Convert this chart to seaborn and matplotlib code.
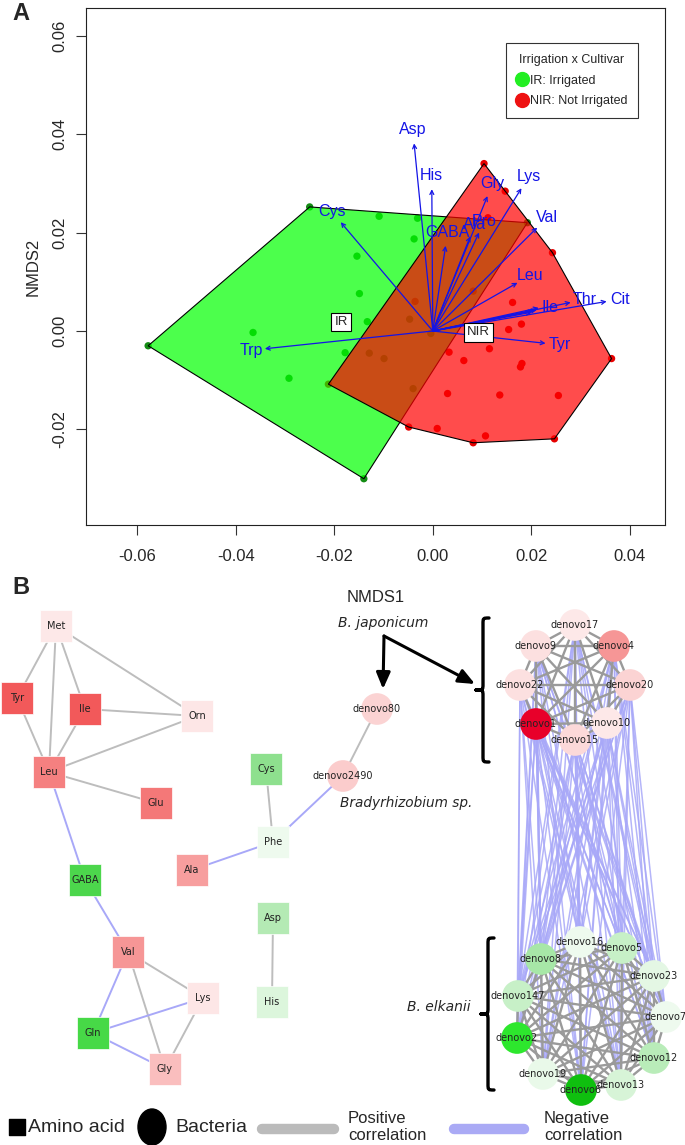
"""
NMDS ordination (A) + correlation network (B)
output: out.png
"""
import numpy as np
import pandas as pd
import matplotlib
matplotlib.use("Agg")
import matplotlib.pyplot as plt
import seaborn as sns
from itertools import combinations, product
from matplotlib.colors import LinearSegmentedColormap, to_rgba
from matplotlib.patches import Polygon, PathPatch, Ellipse
from matplotlib.path import Path
from matplotlib.lines import Line2D

sns.set_theme(style="ticks")
plt.rcParams['font.family'] = ['Liberation Sans', 'DejaVu Sans']

# =============================================
# data: panel A (NMDS scores + envfit vectors)
# =============================================
ir_x = [-0.0578, -0.0250, 0.0192, -0.0140, -0.0109, -0.0031, -0.0038, -0.0154, -0.0149,
        -0.0133, -0.0365, -0.0178, -0.0292, -0.0129, -0.0099, -0.0047, -0.0004, -0.0040]
ir_y = [-0.0030, 0.0252, 0.0220, -0.0300, 0.0233, 0.0229, 0.0187, 0.0152, 0.0076,
        0.0019, -0.0003, -0.0044, -0.0096, -0.0045, -0.0056, 0.0024, -0.0005, -0.0117]
nir_x = [0.0104, 0.0147, 0.0243, 0.0363, 0.0247, 0.0082, 0.0107, 0.0009, -0.0049, -0.0212,
         0.0162, 0.0180, 0.0154, 0.0033, 0.0115, 0.0063, 0.0181, 0.0178, 0.0030, 0.0136,
         0.0255, 0.0082, 0.0112, -0.0036]
nir_y = [0.0340, 0.0284, 0.0159, -0.0056, -0.0219, -0.0227, -0.0213, -0.0198, -0.0195, -0.0108,
         0.0058, 0.0014, 0.0003, -0.0043, -0.0036, -0.0060, -0.0066, -0.0073, -0.0127, -0.0130,
         -0.0131, 0.0081, 0.0230, 0.0060]

vec_names = ["Asp", "His", "Gly", "Lys", "Val", "Ala", "Pro", "GABA", "Leu", "Thr", "Cit",
             "Ile", "Tyr", "Trp", "Cys"]
vec_x = [-0.0038, -0.0002, 0.0111, 0.0180, 0.0212, 0.0076, 0.0094, 0.0026, 0.0172, 0.0280,
         0.0353, 0.0211, 0.0229, -0.0341, -0.0187]
vec_y = [0.0381, 0.0288, 0.0274, 0.0290, 0.0210, 0.0192, 0.0200, 0.0173, 0.0098, 0.0058,
         0.0060, 0.0043, -0.0025, -0.0036, 0.0221]
# arrows hidden under the "Ile" label
extra_vec_x = [0.0200, 0.0205, 0.0215]
extra_vec_y = [0.0038, 0.0041, 0.0047]

group_labels = ["IR", "NIR"]
group_label_x = [-0.0186, 0.0093]
group_label_y = [0.0018, -0.0003]

# =============================================
# data: panel B (network layout, node values, edges)
# =============================================
aa_names = ["Met", "Tyr", "Ile", "Orn", "Leu", "Glu", "Cys", "Phe", "Ala", "GABA",
            "Asp", "Val", "Lys", "His", "Gln", "Gly"]
aa_x = [56, 17, 85, 197, 49, 156, 266, 273, 192, 85, 273, 128, 203, 272, 93, 165]
aa_y = [626, 698, 709, 716, 772, 803, 769, 842, 870, 880, 918, 952, 998, 1002, 1033, 1069]
aa_value = [0.12, 0.70, 0.70, 0.13, 0.59, 0.61, -0.50, -0.075, 0.50, -0.75,
            -0.33, 0.53, 0.13, -0.15, -0.76, 0.34]

japonicum = ["denovo17", "denovo4", "denovo20", "denovo10", "denovo15", "denovo1",
             "denovo22", "denovo9"]
jap_x = [575, 614, 630, 607, 575, 536, 520, 536]
jap_y = [625, 646, 685, 723, 740, 724, 685, 646]
jap_value = [0.12, 0.53, 0.23, 0.12, 0.20, 1.0, 0.16, 0.16]

elkanii = ["denovo16", "denovo5", "denovo23", "denovo7", "denovo12", "denovo13",
           "denovo6", "denovo19", "denovo2", "denovo147", "denovo8"]
elk_x = [580, 622, 654, 666, 654, 621, 581, 543, 517, 518, 541]
elk_y = [942, 948, 976, 1017, 1058, 1085, 1090, 1074, 1038, 996, 959]
elk_value = [-0.075, -0.25, -0.125, -0.075, -0.31, -0.175, -1.0, -0.095, -0.84, -0.25, -0.385]

other_bac = ["denovo80", "denovo2490"]
other_x = [377, 343]
other_y = [709, 776]
other_value = [0.23, 0.27]

# (node, node, sign of correlation)
aa_edges = [("Met", "Tyr", 1), ("Met", "Leu", 1), ("Met", "Ile", 1), ("Met", "Orn", 1),
            ("Tyr", "Leu", 1), ("Ile", "Orn", 1), ("Ile", "Leu", 1), ("Orn", "Leu", 1),
            ("Leu", "Glu", 1), ("Cys", "Phe", 1), ("Asp", "His", 1), ("Val", "Lys", 1),
            ("Val", "Gly", 1), ("Lys", "Gly", 1), ("denovo2490", "denovo80", 1),
            ("Leu", "GABA", -1), ("GABA", "Val", -1), ("Val", "Gln", -1), ("Gln", "Lys", -1),
            ("Gln", "Gly", -1), ("Ala", "Phe", -1), ("Phe", "denovo2490", -1)]

W, H = 685, 1145


def convex_hull(pts):
    pts = sorted(set(map(tuple, pts)))

    def cross(o, a, b):
        return (a[0] - o[0]) * (b[1] - o[1]) - (a[1] - o[1]) * (b[0] - o[0])

    lower, upper = [], []
    for p in pts:
        while len(lower) >= 2 and cross(lower[-2], lower[-1], p) <= 0:
            lower.pop()
        lower.append(p)
    for p in reversed(pts):
        while len(upper) >= 2 and cross(upper[-2], upper[-1], p) <= 0:
            upper.pop()
        upper.append(p)
    return np.array(lower[:-1] + upper[:-1])


def draw_brace(ax, x, y0, y1, depth=7, curl=6, lw=2.4):
    """left curly brace, y grows downward"""
    ym = (y0 + y1) / 2
    verts = [(x + curl, y0), (x, y0), (x, y0), (x, y0 + curl),
             (x, ym - curl),
             (x, ym), (x, ym), (x - depth, ym),
             (x, ym), (x, ym), (x, ym + curl),
             (x, y1 - curl),
             (x, y1), (x, y1), (x + curl, y1)]
    codes = [Path.MOVETO] + [Path.CURVE4] * 3 + [Path.LINETO] + [Path.CURVE4] * 6 + \
            [Path.LINETO] + [Path.CURVE4] * 3
    ax.add_patch(PathPatch(Path(verts, codes), fc="none", ec="black", lw=lw,
                           capstyle="round", joinstyle="round"))


fig = plt.figure(figsize=(W / 100, H / 100), dpi=100)

# =============================================
# panel A
# =============================================
ax = fig.add_axes([86 / W, 1 - 525 / H, (665 - 86) / W, (525 - 8) / H])
df = pd.DataFrame({"NMDS1": ir_x + nir_x,
                   "NMDS2": ir_y + nir_y,
                   "group": ["IR"] * len(ir_x) + ["NIR"] * len(nir_x)})
sns.scatterplot(data=df, x="NMDS1", y="NMDS2", hue="group",
                palette={"IR": "#148C14", "NIR": "#E60000"},
                s=28, linewidth=0, legend=False, ax=ax, zorder=1)

for grp, fc, z in [("IR", "#00FF00", 2), ("NIR", "#FF0000", 3)]:
    pts = df.loc[df["group"] == grp, ["NMDS1", "NMDS2"]].to_numpy()
    ax.add_patch(Polygon(convex_hull(pts), closed=True, facecolor=to_rgba(fc, 0.7),
                         edgecolor="black", lw=0.8, zorder=z))

blue = "#1414E6"
for vx, vy in zip(vec_x + extra_vec_x, vec_y + extra_vec_y):
    ax.annotate("", xy=(vx, vy), xytext=(0, 0),
                arrowprops=dict(arrowstyle="->", color=blue, lw=0.9, shrinkA=0, shrinkB=0,
                                mutation_scale=7), zorder=4)
for name, vx, vy in zip(vec_names, vec_x, vec_y):
    ang = np.arctan2(vy, vx)
    off = 9 if name in ("Ala", "Pro") else 10
    ax.annotate(name, xy=(vx, vy), xytext=(off * np.cos(ang), off * np.sin(ang)),
                textcoords="offset points", ha="center", va="center",
                color=blue, fontsize=11.5, zorder=5)

for lab, gx, gy in zip(group_labels, group_label_x, group_label_y):
    ax.text(gx, gy, lab, ha="center", va="center", fontsize=9.5, zorder=6,
            bbox=dict(boxstyle="square,pad=0.25", fc="white", ec="black", lw=0.8))

ax.set_xlim(-0.07042, 0.04715)
ax.set_ylim(-0.0394, 0.0656)
xt = [-0.06, -0.04, -0.02, 0.00, 0.02, 0.04]
yt = [-0.02, 0.00, 0.02, 0.04, 0.06]
ax.set_xticks(xt)
ax.set_xticklabels([f"{t:.2f}" for t in xt])
ax.set_yticks(yt)
ax.set_yticklabels([f"{t:.2f}" for t in yt], rotation=90, va="center")
ax.tick_params(direction="out", length=7.2, width=0.8, labelsize=12, color="#333333")
ax.tick_params(axis="x", pad=10)
ax.tick_params(axis="y", pad=6)
for sp in ax.spines.values():
    sp.set_visible(True)
    sp.set_color("#222222")
    sp.set_linewidth(0.8)
ax.set_xlabel("NMDS1", fontsize=12, labelpad=19)
ax.set_ylabel("NMDS2", fontsize=12, labelpad=9)

handles = [Line2D([], [], marker="o", ls="", color="#22EE22", markersize=10, label="IR: Irrigated"),
           Line2D([], [], marker="o", ls="", color="#EE1111", markersize=10, label="NIR: Not Irrigated")]
leg = ax.legend(handles=handles, title="Irrigation x Cultivar", loc="upper right",
                bbox_to_anchor=(0.953, 0.932), frameon=True, fancybox=False,
                edgecolor="black", fontsize=9, title_fontsize=9,
                handletextpad=0.15, borderpad=0.85, labelspacing=0.7, handlelength=0.9,
                borderaxespad=0)
leg.get_frame().set_linewidth(0.8)
leg.set_zorder(10)

fig.text(12 / W, 1 - 14 / H, "A", ha="left", va="center", fontsize=17, fontweight="bold")

# =============================================
# panel B
# =============================================
axb = fig.add_axes([0, 0, 1, (H - 565) / H])

cmap = LinearSegmentedColormap.from_list(
    "gwr", [(0.0, "#0FBF0F"), (0.08, "#2EE82E"), (0.125, "#4CD64C"), (0.25, "#8EE08E"),
            (0.5, "#FFFFFF"), (0.75, "#F7A0A0"), (0.85, "#F25A5A"), (1.0, "#E8002A")])

nodes = pd.DataFrame({
    "name": aa_names + other_bac + japonicum + elkanii,
    "x": aa_x + other_x + jap_x + elk_x,
    "y": aa_y + other_y + jap_y + elk_y,
    "value": aa_value + other_value + jap_value + elk_value,
    "kind": ["aa"] * len(aa_names) + ["bac"] * (len(other_bac) + len(japonicum) + len(elkanii)),
})
pos = dict(zip(nodes["name"], zip(nodes["x"], nodes["y"])))
palette = {n: cmap((v + 1) / 2) for n, v in zip(nodes["name"], nodes["value"])}

pos_col, neg_col = "#9A9A9A", "#A8A8F8"

# negative edges between the two clusters
for a, b in product(japonicum, elkanii):
    axb.plot([pos[a][0], pos[b][0]], [pos[a][1], pos[b][1]], color=neg_col, lw=1.1,
             alpha=0.85, zorder=1, solid_capstyle="butt")
# positive edges inside each cluster
for cluster in (japonicum, elkanii):
    for a, b in combinations(cluster, 2):
        axb.plot([pos[a][0], pos[b][0]], [pos[a][1], pos[b][1]], color=pos_col, lw=1.7, zorder=2)
for a, b, sgn in aa_edges:
    axb.plot([pos[a][0], pos[b][0]], [pos[a][1], pos[b][1]],
             color="#BDBDBD" if sgn > 0 else neg_col, lw=1.4, zorder=2)

sns.scatterplot(data=nodes[nodes["kind"] == "aa"], x="x", y="y", hue="name", palette=palette,
                marker="s", s=540, linewidth=0.5, edgecolor="white", legend=False, ax=axb, zorder=3)
sns.scatterplot(data=nodes[nodes["kind"] == "bac"], x="x", y="y", hue="name", palette=palette,
                marker="o", s=520, linewidth=0, legend=False, ax=axb, zorder=3)
for r in nodes.itertuples():
    axb.text(r.x, r.y, r.name, ha="center", va="center", fontsize=7, color="#222222",
             family="DejaVu Sans", zorder=4)

draw_brace(axb, 483, 618, 762)
draw_brace(axb, 488, 938, 1090)

for tgt in [(383, 689), (475, 684)]:
    axb.annotate("", xy=tgt, xytext=(384, 636),
                 arrowprops=dict(arrowstyle="-|>,head_length=0.7,head_width=0.3", color="black",
                                 lw=2.2, shrinkA=0, shrinkB=0, mutation_scale=14))
axb.text(383, 623, "B. japonicum", style="italic", fontsize=10, ha="center", va="center",
         family="DejaVu Sans")
axb.text(406, 803, "Bradyrhizobium sp.", style="italic", fontsize=9.8, ha="center", va="center",
         family="DejaVu Sans")
axb.text(439, 1007, "B. elkanii", style="italic", fontsize=10, ha="center", va="center",
         family="DejaVu Sans")
axb.text(12, 588, "B", ha="left", va="center", fontsize=17, fontweight="bold")

# legend row
axb.scatter([17], [1127], marker="s", s=(16 * 0.72) ** 2, color="black", clip_on=False)
axb.text(28, 1128, "Amino acid", fontsize=14, ha="left", va="center")
axb.add_patch(Ellipse((152, 1127), 28, 36, color="black", clip_on=False))
axb.text(175, 1128, "Bacteria", fontsize=14, ha="left", va="center")
axb.plot([262, 334], [1129, 1129], color="#BBBBBB", lw=7.5, solid_capstyle="round")
axb.text(348, 1127, "Positive\ncorrelation", fontsize=12, ha="left", va="center", linespacing=1.15)
axb.plot([454, 524], [1129, 1129], color="#AAAAF5", lw=7.5, solid_capstyle="round")
axb.text(544, 1127, "Negative\ncorrelation", fontsize=12, ha="left", va="center", linespacing=1.15)

axb.set_xlim(0, W)
axb.set_ylim(H, 565)
axb.axis("off")

fig.savefig("out.png", dpi=100)
plt.close(fig)
